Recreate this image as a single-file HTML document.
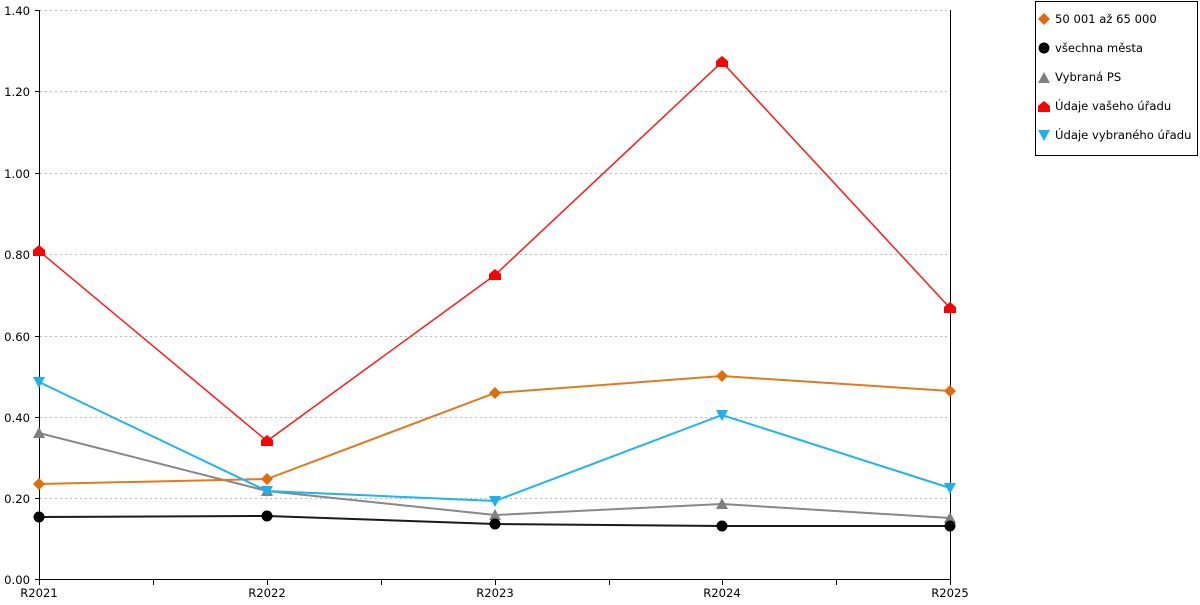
<!DOCTYPE html>
<html><head><meta charset="utf-8"><style>
body{margin:0;background:#fff;width:1200px;height:600px;overflow:hidden}
text{font-family:"DejaVu Sans","Liberation Sans",sans-serif;font-size:11.6px;fill:#000}
</style></head><body>
<svg width="1200" height="600" xmlns="http://www.w3.org/2000/svg">
<g stroke="#bbb" stroke-dasharray="2,3" stroke-width="1">
<line x1="40" x2="950" y1="498.5" y2="498.5"/>
<line x1="40" x2="950" y1="417.5" y2="417.5"/>
<line x1="40" x2="950" y1="336.5" y2="336.5"/>
<line x1="40" x2="950" y1="254.5" y2="254.5"/>
<line x1="40" x2="950" y1="173.5" y2="173.5"/>
<line x1="40" x2="950" y1="91.5" y2="91.5"/>
<line x1="40" x2="950" y1="10.5" y2="10.5"/>
</g>
<g stroke="#000" stroke-width="1">
<line x1="39.5" y1="10" x2="39.5" y2="585"/>
<line x1="950.5" y1="10" x2="950.5" y2="585"/>
<line x1="35" y1="579.5" x2="950" y2="579.5"/>
<line x1="35" y1="498.5" x2="39" y2="498.5"/>
<line x1="35" y1="417.5" x2="39" y2="417.5"/>
<line x1="35" y1="336.5" x2="39" y2="336.5"/>
<line x1="35" y1="254.5" x2="39" y2="254.5"/>
<line x1="35" y1="173.5" x2="39" y2="173.5"/>
<line x1="35" y1="91.5" x2="39" y2="91.5"/>
<line x1="35" y1="10.5" x2="39" y2="10.5"/>
<line x1="153.5" y1="579" x2="153.5" y2="585"/>
<line x1="267.5" y1="579" x2="267.5" y2="585"/>
<line x1="381.5" y1="579" x2="381.5" y2="585"/>
<line x1="495.5" y1="579" x2="495.5" y2="585"/>
<line x1="609.5" y1="579" x2="609.5" y2="585"/>
<line x1="722.5" y1="579" x2="722.5" y2="585"/>
<line x1="836.5" y1="579" x2="836.5" y2="585"/>
</g>
<g text-anchor="end">
<text x="30" y="584">0.00</text><text x="30" y="503">0.20</text><text x="30" y="422">0.40</text>
<text x="30" y="341">0.60</text><text x="30" y="259">0.80</text><text x="30" y="178">1.00</text>
<text x="30" y="96">1.20</text><text x="30" y="15">1.40</text>
</g>
<g text-anchor="middle">
<text x="39" y="597">R2021</text><text x="267" y="597">R2022</text><text x="495" y="597">R2023</text>
<text x="722" y="597">R2024</text><text x="950" y="597">R2025</text>
</g>
<g fill="none" stroke-width="2">
<polyline stroke="#888" points="39,433 267,491 495,515 722,504 950,518"/>
<polyline stroke="#e07a1f" points="39,484 267,479 495,393 722,376 950,391"/>
<polyline stroke="#1a1a1a" points="39,517 267,516 495,524 722,526 950,526"/>
<polyline stroke="#ff1a1a" stroke-width="1.5" points="39,251 267,441 495,275 722,62 950,308"/>
<polyline stroke="#1eb4ee" points="39,382 267,491 495,501 722,415 950,488"/>
</g>
<g fill="#808080">
<path d="M39,427l6,11h-12z"/><path d="M267,485l6,11h-12z"/><path d="M495,509l6,11h-12z"/><path d="M722,498l6,11h-12z"/><path d="M950,512l6,11h-12z"/>
</g>
<g fill="#e06c0c">
<path d="M39,478l6,6l-6,6l-6,-6z"/><path d="M267,473l6,6l-6,6l-6,-6z"/><path d="M495,387l6,6l-6,6l-6,-6z"/><path d="M722,370l6,6l-6,6l-6,-6z"/><path d="M950,385l6,6l-6,6l-6,-6z"/>
</g>
<g fill="#000">
<circle cx="39" cy="517" r="5.5"/><circle cx="267" cy="516" r="5.5"/><circle cx="495" cy="524" r="5.5"/><circle cx="722" cy="526" r="5.5"/><circle cx="950" cy="526" r="5.5"/>
</g>
<g fill="#ff0000">
<path d="M39,245l6,5v6h-12v-6z"/><path d="M267,435l6,5v6h-12v-6z"/><path d="M495,269l6,5v6h-12v-6z"/><path d="M722,56l6,5v6h-12v-6z"/><path d="M950,302l6,5v6h-12v-6z"/>
</g>
<g fill="#1eb0ee">
<path d="M33,377h12l-6,11z"/><path d="M261,486h12l-6,11z"/><path d="M489,496h12l-6,11z"/><path d="M716,410h12l-6,11z"/><path d="M944,483h12l-6,11z"/>
</g>
<rect x="1035.5" y="1.5" width="162" height="154" fill="#fff" stroke="#000"/>
<path d="M1044,13l6,6l-6,6l-6,-6z" fill="#e06c0c"/>
<circle cx="1044" cy="48" r="5.5" fill="#000"/>
<path d="M1044,72l6,11h-12z" fill="#808080"/>
<path d="M1044,101l6,5v6h-12v-6z" fill="#ff0000"/>
<path d="M1038,130h12l-6,11z" fill="#1eb0ee"/>
<text x="1055" y="23">50 001 až 65 000</text>
<text x="1055" y="52">všechna města</text>
<text x="1055" y="81">Vybraná PS</text>
<text x="1055" y="110">Údaje vašeho úřadu</text>
<text x="1055" y="139">Údaje vybraného úřadu</text>
</svg>
</body></html>
